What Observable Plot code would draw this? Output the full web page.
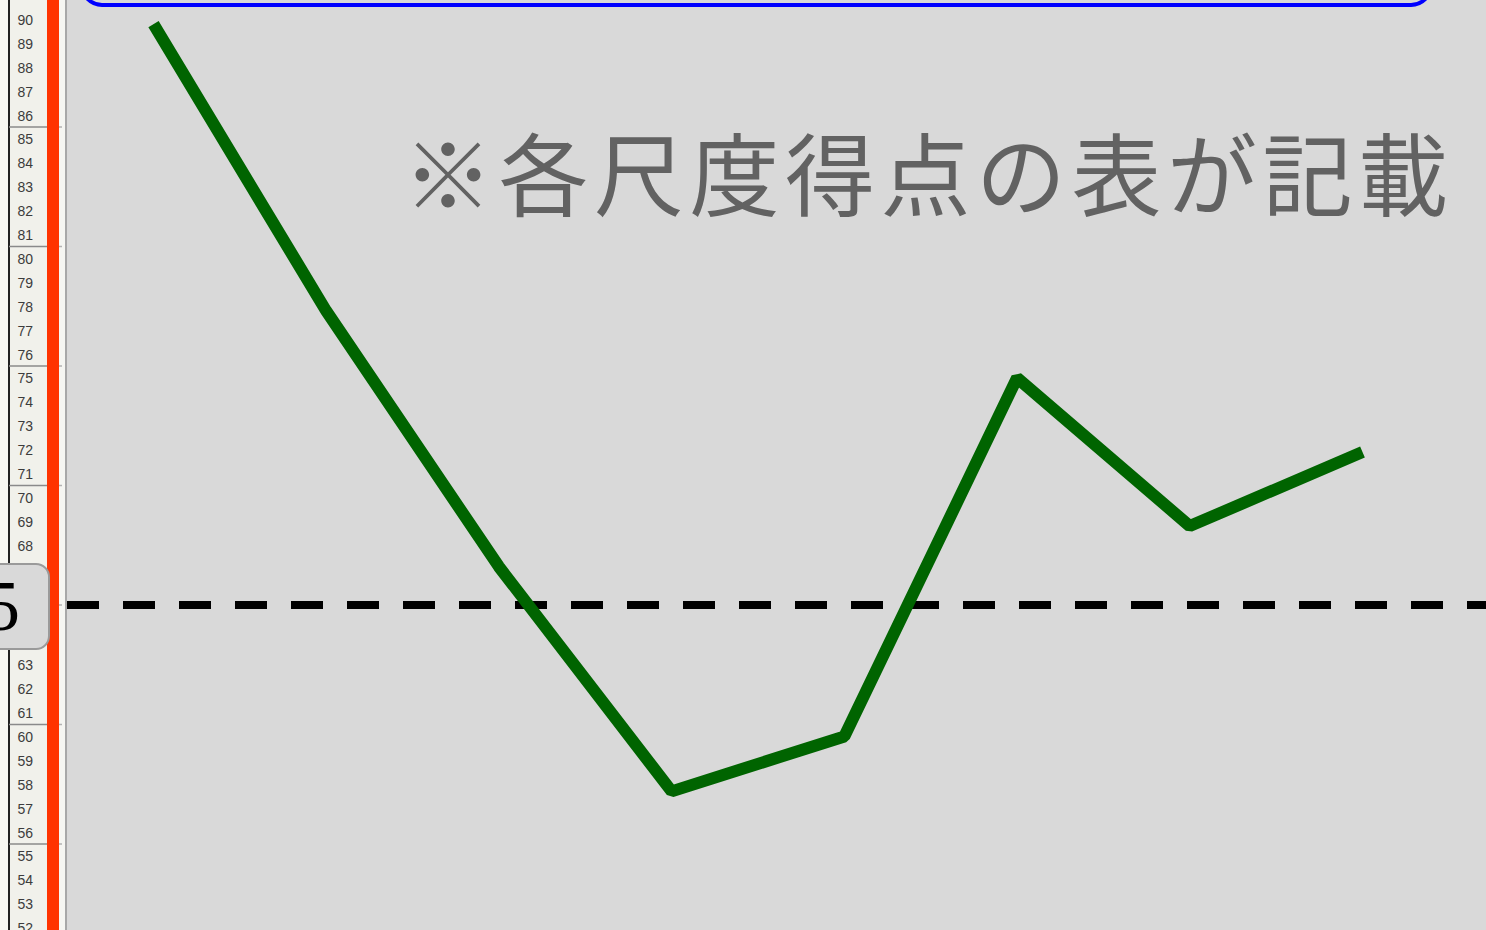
<!DOCTYPE html>
<html>
<head>
<meta charset="utf-8">
<script src="https://cdn.jsdelivr.net/npm/d3@7"></script>
<script src="https://cdn.jsdelivr.net/npm/@observablehq/plot@0.6"></script>
<style>
  html, body { margin: 0; padding: 0; background: #d9d9d9; overflow: hidden; }
  #wrap { position: relative; width: 1486px; height: 930px; overflow: hidden; }
  #ruler { position: absolute; left: 0; top: 0; width: 66px; height: 930px; background: #f1f1eb; }
  #rulerEdge { position: absolute; left: 0; top: 0; width: 8px; height: 930px; background: #f8f8f3; }
  #rulerLine { position: absolute; left: 8px; top: 0; width: 2px; height: 930px; background: #222; }
  #chart { position: absolute; left: 0; top: 0; }
  #redBar { position: absolute; left: 47px; top: 0; width: 12px; height: 930px; background: #ff3300; }
  #whiteStrip { position: absolute; left: 59px; top: 0; width: 6px; height: 930px; background: rgba(255,255,255,0.35); }
  #border { position: absolute; left: 65px; top: 0; width: 2px; height: 930px; background: #a8a8a8; }
  #refBox { position: absolute; left: -90px; top: 563px; width: 136px; height: 83px; background: #d9d9d9;
            border: 2px solid #9a9a9a; border-radius: 14px; box-sizing: content-box;
            font-family: "Liberation Serif", "DejaVu Serif", serif; font-size: 72px; line-height: 83px;
            color: #000; text-align: right; }
  #refBox span { position: absolute; right: 28px; top: 0; }
  #topBox { position: absolute; left: 80px; top: -60px; width: 1345px; height: 59px;
            border: 4px solid #0000ff; border-radius: 22px; }
  #note { position: absolute; left: 403px; top: 105px; white-space: nowrap;
          font-family: "Noto Sans CJK JP", sans-serif; font-size: 90px; font-weight: 400;
          letter-spacing: 5.5px; color: #626262; }
</style>
</head>
<body>
<div id="wrap">
  <div id="ruler"></div>
  <div id="rulerEdge"></div>
  <div id="rulerLine"></div>
  <div id="chart"></div>
  <div id="redBar"></div>
  <div id="whiteStrip"></div>
  <div id="border"></div>
  <div id="refBox"><span id="refText"></span></div>
  <div id="topBox"></div>
  <div id="note"></div>
</div>
<script>
// ---- data ----
const scaleIndex = [1, 2, 3, 4, 5, 6, 7, 8];
const scores = [89.3, 77.3, 66.6, 57.2, 59.5, 74.5, 68.3, 71.4];
const referenceValue = 65;
const rulerLabels = d3.range(52, 91);
const rulerMajor = [55, 60, 65, 70, 75, 80, 85];
const noteText = "※各尺度得点の表が記載";

const data = scaleIndex.map((s, i) => ({scale: s, score: scores[i]}));

const chart = Plot.plot({
  width: 1486,
  height: 930,
  marginLeft: 67,
  marginRight: 0,
  marginTop: 0,
  marginBottom: 0,
  style: {background: "transparent"},
  x: {type: "linear", domain: [0.502, 8.718], axis: null},
  y: {domain: [51.38, 90.29], axis: null},
  marks: [
    Plot.frame({fill: "#d9d9d9", stroke: null}),
    Plot.axisY({
      ticks: rulerMajor, tickSize: 53, dx: -5, tickFormat: () => "", label: null,
      stroke: "#8a8a8a", strokeWidth: 1.5
    }),
    Plot.axisY({
      ticks: rulerLabels, tickSize: 0, tickPadding: 0, textAnchor: "start", label: null,
      dx: -50, dy: 13, fontSize: 14, fill: "#3c3c3c",
      fontFamily: "Liberation Sans, Arial, sans-serif", tickFormat: d => String(d)
    }),
    Plot.ruleY([referenceValue], {stroke: "#000", strokeWidth: 8, strokeDasharray: "32 24"}),
    Plot.line(data, {
      x: "scale", y: "score", stroke: "#006400", strokeWidth: 12,
      strokeLinejoin: "miter", strokeLinecap: "butt"
    })
  ]
});
document.getElementById("chart").appendChild(chart);
document.getElementById("refText").textContent = String(referenceValue);
document.getElementById("note").textContent = noteText;
</script>
</body>
</html>
